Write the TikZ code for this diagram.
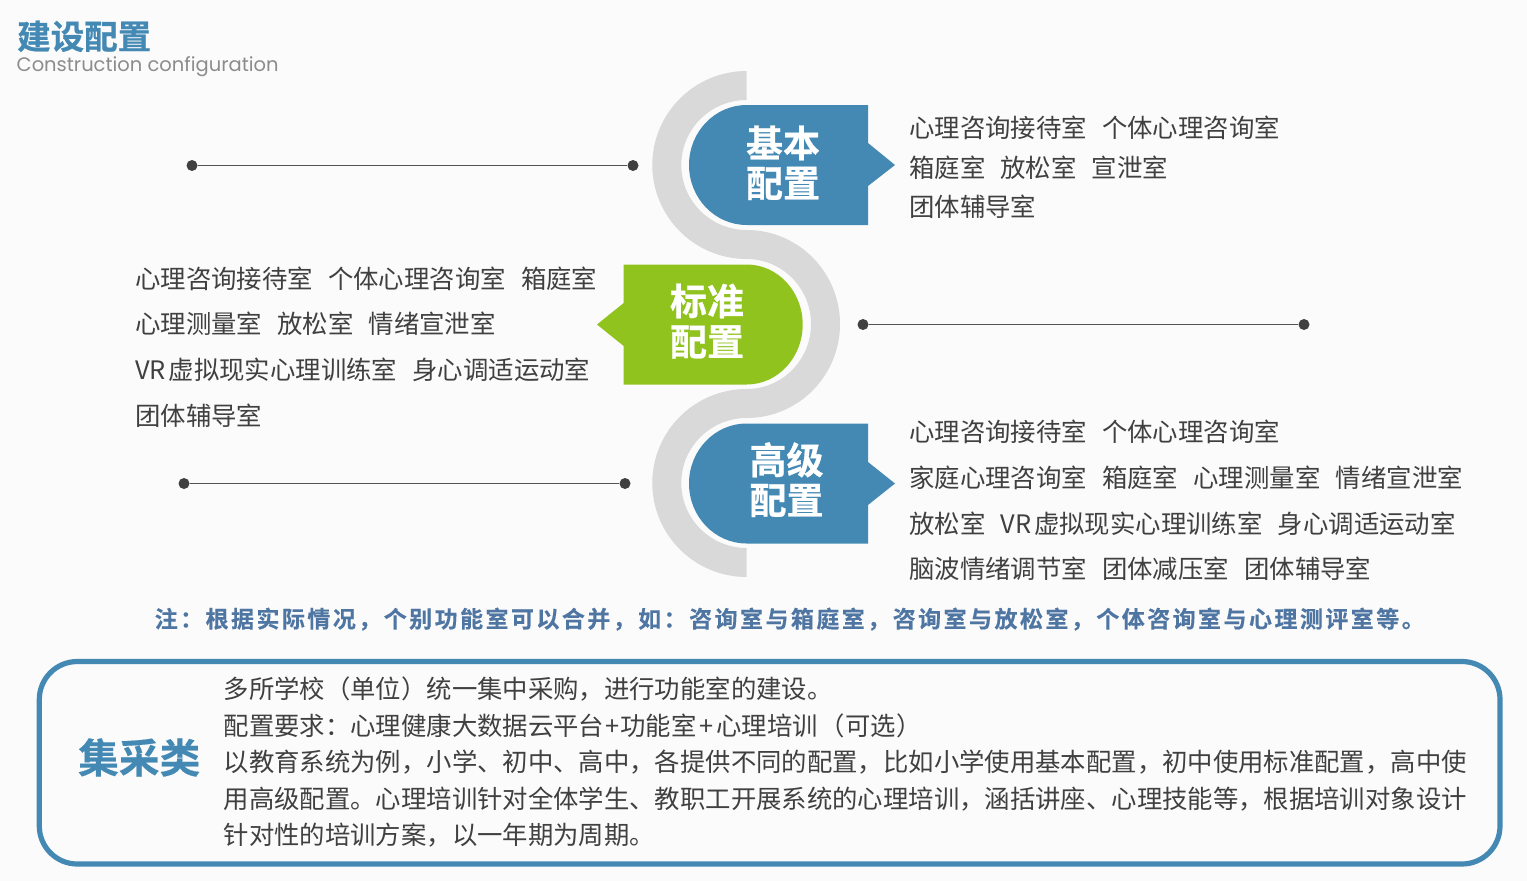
\documentclass[tikz,border=0pt]{standalone}
\usepackage{fontspec}
\setmainfont{Noto Sans CJK SC}
\newfontfamily\heavyfont[FakeBold=0.7]{Noto Sans CJK SC Bold}
\newfontfamily\kindfont[FakeBold=0.3]{Noto Sans CJK SC Bold}
\newfontfamily\notefont[LetterSpace=10.65,FakeBold=0.3]{Noto Sans CJK SC Bold}
\newfontfamily\latinfont{Poppins}
\definecolor{bluefill}{HTML}{4389B4}
\definecolor{greenfill}{HTML}{91C31E}
\definecolor{greyband}{HTML}{D9D9D9}
\definecolor{paper}{HTML}{FBFBFB}
\definecolor{ink}{HTML}{404040}
\definecolor{notecol}{HTML}{4F76A3}
\definecolor{subcol}{HTML}{8C8C8C}
\newcommand{\gp}{\hspace{15.2pt}}
\tikzset{
  x=1pt,y=1pt,
  body/.style={anchor=base west,inner sep=0pt,text=ink,font=\fontsize{25.4}{25.4}\selectfont},
  panelbody/.style={anchor=base west,inner sep=0pt,text=ink,font=\fontsize{25.37}{25.37}\selectfont},
  headline/.style={anchor=base,inner sep=0pt,text=white,font=\heavyfont\fontsize{37}{37}\selectfont},
  dotnode/.style={circle,fill=ink,minimum size=11pt,inner sep=0pt},
  link/.style={draw=ink!90!white,line width=1.3pt},
  tag/.style={fill=bluefill},
}
\begin{document}
\begin{tikzpicture}
\useasboundingbox (0,0) rectangle (1527,-881);
\fill[paper] (0,0) rectangle (1527,-881);
% title
\node[anchor=base west,inner sep=0pt,text=bluefill,font=\heavyfont\fontsize{33.5}{33.5}\selectfont] (title) at (17,-49) {建设配置};
\node[anchor=base west,inner sep=0pt,text=subcol,font=\latinfont\fontsize{19.5}{19.5}\selectfont] (subtitle) at (16.5,-71) {Construction configuration};
% S band
\fill[greyband] (746.7,-71) arc[start angle=90,end angle=270,x radius=94.4,y radius=94]
  arc[start angle=90,end angle=-90,x radius=64.3,y radius=65]
  arc[start angle=90,end angle=270,x radius=94.4,y radius=94]
  -- (746.7,-548)
  arc[start angle=270,end angle=90,x radius=65.4,y radius=65]
  arc[start angle=-90,end angle=90,x radius=93.3,y radius=94]
  arc[start angle=270,end angle=90,x radius=65.4,y radius=65]
  -- cycle;
% tags
\fill[tag] (746.7,-105) arc[start angle=90,end angle=270,x radius=57.7,y radius=60] -- (868,-225) -- (868,-186) -- (895,-165) -- (868,-143) -- (868,-105) -- cycle;
\fill[tag] (746.7,-423.5) arc[start angle=90,end angle=270,x radius=57.7,y radius=60] -- (868,-543.5) -- (868,-505) -- (895,-483.5) -- (868,-462) -- (868,-423.5) -- cycle;
\fill[greenfill] (746.7,-264.5) arc[start angle=90,end angle=-90,x radius=56,y radius=60] -- (623.7,-384.5) -- (623.7,-346) -- (597,-324.5) -- (623.7,-303) -- (623.7,-264.5) -- cycle;
% tag labels
\node[headline] (h1a) at (783,-157) {基本};
\node[headline] (h1b) at (783,-197) {配置};
\node[headline] (h2a) at (707,-315) {标准};
\node[headline] (h2b) at (707,-355.5) {配置};
\node[headline] (h3a) at (786.5,-474) {高级};
\node[headline] (h3b) at (786.5,-514) {配置};
% leaders
\node[dotnode] (a1) at (192,-165.5) {};
\node[dotnode] (a2) at (633,-165.5) {};
\node[dotnode] (b1) at (863,-324.5) {};
\node[dotnode] (b2) at (1304,-324.5) {};
\node[dotnode] (c1) at (184,-483.5) {};
\node[dotnode] (c2) at (625,-483.5) {};
\draw[link] (a1) -- (a2);
\draw[link] (b1) -- (b2);
\draw[link] (c1) -- (c2);
% top right list
\node[body] (t1) at (909,-137) {心理咨询接待室\gp 个体心理咨询室};
\node[body] (t2) at (909,-177) {箱庭室\gp 放松室\gp 宣泄室};
\node[body] (t3) at (909,-216) {团体辅导室};
% left list
\node[body] (l1) at (135,-288) {心理咨询接待室\gp 个体心理咨询室\gp 箱庭室};
\node[body] (l2) at (135,-333) {心理测量室\gp 放松室\gp 情绪宣泄室};
\node[body] (l3) at (135,-379) {VR\hspace{2.7pt}虚拟现实心理训练室\gp 身心调适运动室};
\node[body] (l4) at (135,-425) {团体辅导室};
% bottom right list
\node[body] (r1) at (909,-441) {心理咨询接待室\gp 个体心理咨询室};
\node[body] (r2) at (909,-487) {家庭心理咨询室\gp 箱庭室\gp 心理测量室\gp 情绪宣泄室};
\node[body] (r3) at (909,-533) {放松室\gp VR\hspace{2.7pt}虚拟现实心理训练室\gp 身心调适运动室};
\node[body] (r4) at (909,-578) {脑波情绪调节室\gp 团体减压室\gp 团体辅导室};
% note
\node[anchor=base west,inner sep=0pt,text=notecol,font=\notefont\fontsize{23}{23}\selectfont] (note) at (154.5,-627.5) {注：根据实际情况，个别功能室可以合并，如：咨询室与箱庭室，咨询室与放松室，个体咨询室与心理测评室等。};
% bottom panel
\draw[draw=bluefill,line width=5.2pt,rounded corners=38pt] (39.3,-661.5) rectangle (1500,-864);
\node[anchor=base west,inner sep=0pt,text=bluefill,font=\kindfont\fontsize{40.7}{40.7}\selectfont] (kind) at (78,-773) {集采类};
\node[panelbody] (p1) at (223.5,-698) {多所学校（单位）统一集中采购，进行功能室的建设。};
\node[panelbody] (p2) at (223.5,-735) {配置要求：心理健康大数据云平台\hspace{1pt}+\hspace{1pt}功能室\hspace{3pt}+\hspace{3pt}心理培训\hspace{2pt}（可选）};
\node[panelbody] (p3) at (223.5,-771) {以教育系统为例，小学、初中、高中，各提供不同的配置，比如小学使用基本配置，初中使用标准配置，高中使};
\node[panelbody] (p4) at (223.5,-808) {用高级配置。心理培训针对全体学生、教职工开展系统的心理培训，涵括讲座、心理技能等，根据培训对象设计};
\node[panelbody] (p5) at (223.5,-844) {针对性的培训方案，以一年期为周期。};
\end{tikzpicture}
\end{document}
